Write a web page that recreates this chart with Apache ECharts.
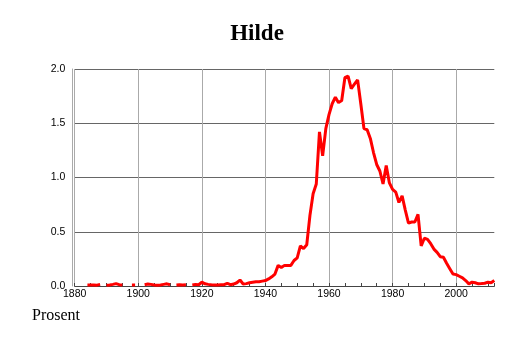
<!DOCTYPE html>
<html>
<head>
<meta charset="utf-8">
<script src="https://cdn.jsdelivr.net/npm/echarts@6/dist/echarts.min.js"></script>
<style>
html, body { margin: 0; padding: 0; background: #fff; }
#chart { width: 514px; height: 343px; }
</style>
</head>
<body>
<div id="chart"></div>
<script>
const titleText = "Hilde";
const yAxisName = "Prosent";
const yTicks = [0.0, 0.5, 1.0, 1.5, 2.0];
const xTicks = [1880, 1900, 1920, 1940, 1960, 1980, 2000];

const years1880 = [1880,1881,1882,1883,1884,1885,1886,1887,1888,1889,1890,1891,1892,1893,1894,1895,1896,1897,1898,1899,
                   1900,1901,1902,1903,1904,1905,1906,1907,1908,1909,1910,1911,1912,1913,1914,1915,1916,1917,1918,1919];
const values1880 = [null,null,null,null,0.010,0.010,0.010,0.008,0.015,null,0.008,0.010,0.015,0.022,0.012,0.010,null,null,0.010,0.010,
                    null,null,0.012,0.018,0.015,0.010,0.008,0.010,0.015,0.020,0.012,null,0.010,0.012,0.010,0.012,null,0.010,0.015,0.012];

const years1920 = [1920,1921,1922,1923,1924,1925,1926,1927,1928,1929,1930,1931,1932,1933,1934,1935,1936,1937,1938,1939,
                   1940,1941,1942,1943,1944,1945,1946,1947,1948,1949,1950,1951,1952,1953,1954,1955,1956,1957,1958,1959];
const values1920 = [0.035,0.020,0.015,0.012,0.010,0.010,0.012,0.012,0.025,0.012,0.018,0.030,0.055,0.018,0.022,0.030,0.035,0.040,0.040,0.045,
                    0.050,0.065,0.085,0.110,0.190,0.170,0.190,0.190,0.190,0.235,0.260,0.370,0.345,0.380,0.650,0.850,0.940,1.420,1.200,1.450];

const years1960 = [1960,1961,1962,1963,1964,1965,1966,1967,1968,1969,1970,1971,1972,1973,1974,1975,1976,1977,1978,1979,
                   1980,1981,1982,1983,1984,1985,1986,1987,1988,1989,1990,1991,1992,1993,1994,1995,1996,1997,1998,1999,
                   2000,2001,2002,2003,2004,2005,2006,2007,2008,2009,2010,2011,2012];
const values1960 = [1.580,1.680,1.740,1.690,1.710,1.920,1.935,1.820,1.860,1.900,1.680,1.450,1.440,1.360,1.230,1.120,1.060,0.940,1.110,0.950,
                    0.890,0.865,0.770,0.830,0.700,0.580,0.590,0.590,0.660,0.370,0.440,0.430,0.390,0.340,0.310,0.270,0.265,0.210,0.160,0.110,
                    0.105,0.090,0.075,0.050,0.020,0.035,0.030,0.020,0.022,0.025,0.035,0.030,0.050];

const years = years1880.concat(years1920, years1960);
const values = values1880.concat(values1920, values1960);
const seriesData = years.map((y, i) => [y, values[i]]);

const chart = echarts.init(document.getElementById('chart'), null, { renderer: 'canvas' });
chart.setOption({
  animation: false,
  backgroundColor: '#ffffff',
  title: {
    text: titleText,
    left: 'center',
    top: 18,
    textStyle: { fontFamily: 'Liberation Serif', fontWeight: 'bold', fontSize: 23, color: '#000' }
  },
  graphic: [{
    type: 'text',
    left: 32,
    top: 308,
    style: { text: yAxisName, font: '16px "Liberation Serif"', fill: '#000' }
  }],
  grid: { left: 74.7, right: 19.7, top: 69, bottom: 57, containLabel: false },
  xAxis: {
    type: 'value',
    min: xTicks[0],
    max: 2012,
    interval: 20,
    axisLine: { show: true, lineStyle: { color: '#444', width: 1 } },
    axisTick: { show: true, inside: true, length: 3, lineStyle: { color: '#444' } },
    minorTick: { show: true, splitNumber: 4, length: 3, lineStyle: { color: '#444' } },
    splitLine: { show: true, showMaxLine: false, lineStyle: { color: '#aaaaaa', width: 1 } },
    axisLabel: {
      show: true, showMaxLabel: false, margin: 3,
      fontFamily: 'Liberation Sans', fontSize: 10.5, color: '#000',
      formatter: v => (xTicks.indexOf(v) >= 0 ? String(v) : '')
    }
  },
  yAxis: {
    type: 'value',
    min: yTicks[0],
    max: yTicks[yTicks.length - 1],
    interval: 0.5,
    offset: 2.4,
    axisLine: { show: true, lineStyle: { color: '#aaaaaa', width: 1 } },
    axisTick: { show: false },
    splitLine: { show: true, lineStyle: { color: '#666666', width: 1 } },
    axisLabel: {
      margin: 7, fontFamily: 'Liberation Sans', fontSize: 10.5, color: '#000',
      formatter: v => v.toFixed(1)
    }
  },
  series: [{
    type: 'line',
    data: seriesData,
    showSymbol: false,
    connectNulls: false,
    lineStyle: { color: '#ff0000', width: 3 },
    itemStyle: { color: '#ff0000' }
  }]
});
</script>
</body>
</html>
